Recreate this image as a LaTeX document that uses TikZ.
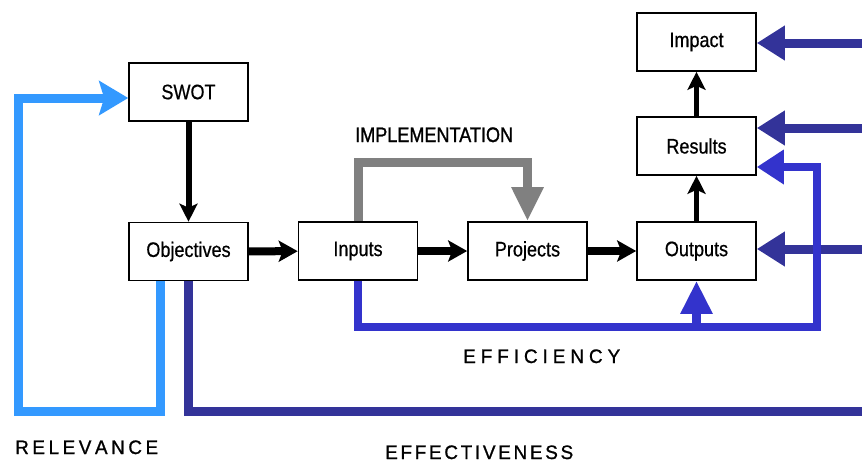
\documentclass[tikz,border=0pt]{standalone}
\usepackage{fontspec}
\setmainfont{Liberation Sans}[FakeStretch=0.86, FakeBold=0.6]
\newfontfamily\spacedfont{Liberation Sans}[FakeStretch=0.97, FakeBold=1]
\newfontfamily\implfont{Liberation Sans}[FakeStretch=0.86, FakeBold=1.2]
\usetikzlibrary{arrows.meta}
\definecolor{relblue}{HTML}{3399FF}
\definecolor{effblue}{HTML}{3333CC}
\definecolor{navyblue}{HTML}{333399}
\definecolor{implgray}{HTML}{808080}
\newcommand\spreadout[2]{\makebox[#1][s]{#2}}
\begin{document}
\begin{tikzpicture}[x=1pt,y=-1pt,
  box/.style={draw, line width=1.6pt, minimum width=119pt, minimum height=58pt, inner sep=0pt, fill=white,
    font=\fontsize{21}{25}\selectfont},
  lbl/.style={inner sep=0pt, anchor=base west, font=\spacedfont\fontsize{19.5}{23}\selectfont},
  blackarrow/.style={line width=8pt, -{Stealth[length=19pt,width=21pt,inset=4pt]}},
  thinarrow/.style={line width=5pt, -{Stealth[length=18pt,width=18pt,inset=4pt]}},
  relline/.style={draw=relblue, line width=9pt, line join=miter},
  effline/.style={draw=effblue, line width=8.5pt, line join=miter},
  navyline/.style={draw=navyblue, line width=9pt, line join=miter},
  grayline/.style={draw=implgray, line width=9pt, line join=miter},
  bigtip/.style={-{Triangle[length=#1,width=33pt]}}
]
\useasboundingbox (0,0) rectangle (862,464);

% boxes
\node[box] (SWOT) at (188.5,92) {SWOT};
\node[box] (Objectives) at (188.5,251.5) {Objectives};
\node[box] (Inputs) at (358,251) {Inputs};
\node[box] (Projects) at (527.5,251) {Projects};
\node[box] (Outputs) at (696.5,251) {Outputs};
\node[box] (Results) at (696.5,146) {Results};
\node[box] (Impact) at (696.5,42) {Impact};

% black flow
\draw[thinarrow, line width=6pt] (SWOT) -- (Objectives);
\draw[blackarrow] (Objectives) -- (Inputs);
\draw[blackarrow] (Inputs) -- (Projects);
\draw[blackarrow] (Projects) -- (Outputs);
\draw[thinarrow] (Outputs) -- (Results);
\draw[thinarrow] (Results) -- (Impact);

% implementation (gray)
\coordinate (g1) at (358,162);
\coordinate (g2) at (527.5,162);
\draw[grayline, -{Triangle[length=34pt,width=30pt]}] (Inputs.north) -- (g1) -- (g2) -- (Projects.north);
\node[lbl, font=\implfont\fontsize{21}{25}\selectfont] (impl) at (355,142) {IMPLEMENTATION};

% relevance (light blue)
\coordinate (r1) at (160,411);
\coordinate (r2) at (18,411);
\coordinate (r3) at (18,98);
\draw[relline, -{Stealth[length=29pt,width=34pt,inset=5pt]}] (Objectives.south -| r1) -- (r1) -- (r2) -- (r3) -- (SWOT.west |- r3);
\node[lbl] (rel) at (15,454) {\spreadout{143pt}{R\hfil E\hfil L\hfil E\hfil V\hfil A\hfil N\hfil C\hfil E}};

% effectiveness (navy)
\coordinate (n1) at (862,411);
\draw[navyline] (Objectives.south) |- (n1);
\node[lbl] (effect) at (385,459) {\spreadout{188pt}{E\hfil F\hfil F\hfil E\hfil C\hfil T\hfil I\hfil V\hfil E\hfil N\hfil E\hfil S\hfil S}};

\coordinate (a1) at (862,43);
\coordinate (a2) at (862,128);
\coordinate (a3) at (862,249);
\draw[navyline, bigtip=28pt] (a1) -- (Impact.east |- a1);
\draw[navyline, bigtip=28pt] (a2) -- (Results.east |- a2);
\draw[navyline, bigtip=28pt] (a3) -- (Outputs.east |- a3);

% efficiency (medium blue)
\coordinate (e1) at (817,327);
\coordinate (e2) at (817,167);
\draw[effline, bigtip=27pt] (Inputs.south) |- (e1) -- (e2) -- (Results.east |- e2);
\draw[effline, -{Triangle[length=33pt,width=30pt]}] (Outputs.south |- e1) -- (Outputs.south);
\node[lbl] (effic) at (463,363) {\spreadout{157pt}{E\hfil F\hfil F\hfil I\hfil C\hfil I\hfil E\hfil N\hfil C\hfil Y}};
\end{tikzpicture}
\end{document}
